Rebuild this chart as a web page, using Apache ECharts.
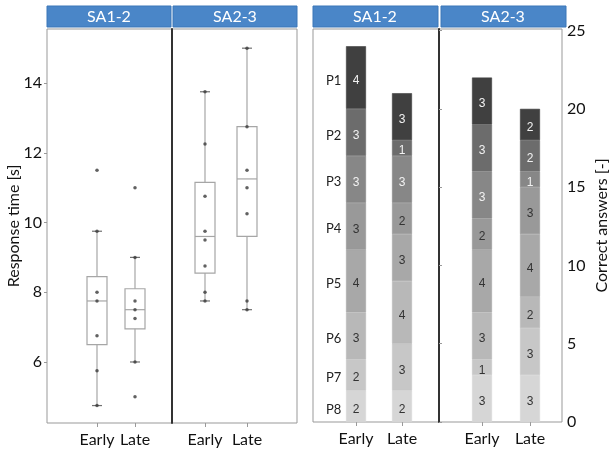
<!DOCTYPE html>
<html>
<head>
<meta charset="utf-8">
<script src="https://cdn.jsdelivr.net/npm/echarts@6/dist/echarts.min.js"></script>
<style>
  html, body { margin: 0; padding: 0; background: #fff; }
  #chart { width: 611px; height: 453px; }
</style>
</head>
<body>
<div id="chart"></div>
<script>
// panels and categories
var groups = ['SA1-2', 'SA2-3'];
var phases = ['Early', 'Late'];
var questions = ['P1', 'P2', 'P3', 'P4', 'P5', 'P6', 'P7', 'P8'];

// response time boxes: [min, Q1, median, Q3, max] for Early, Late
var sa12Box = [[4.75, 6.5, 7.75, 8.45, 9.75], [6.0, 6.95, 7.5, 8.1, 9.0]];
var sa23Box = [[7.75, 8.55, 9.6, 11.15, 13.75], [7.5, 9.6, 11.25, 12.75, 15.0]];

// single response times (dots)
var sa12Early = [11.5, 9.75, 8.0, 7.75, 6.75, 5.75, 4.75];
var sa12Late = [11.0, 9.0, 7.75, 7.5, 7.25, 6.0, 5.0];
var sa23Early = [13.75, 12.25, 10.75, 9.75, 9.5, 8.75, 8.0, 7.75];
var sa23Late = [15.0, 12.75, 11.5, 11.0, 10.25, 7.75, 7.5];

// correct answers per question P1..P8
var sa12EarlyAns = [4, 3, 3, 3, 4, 3, 2, 2];
var sa12LateAns = [3, 1, 3, 2, 3, 4, 3, 2];
var sa23EarlyAns = [3, 3, 3, 2, 4, 3, 1, 3];
var sa23LateAns = [2, 2, 1, 3, 4, 2, 3, 3];

// tick labels
var timeTicks = [6, 8, 10, 12, 14];
var answerTicks = [0, 5, 10, 15, 20, 25];

var shades = ['#404040', '#6c6c6c', '#878787', '#999999', '#a8a8a8', '#b8b8b8', '#c7c7c7', '#d6d6d6'];
var labelColors = ['#f2f2f2', '#f2f2f2', '#f2f2f2', '#333', '#333', '#333', '#333', '#333'];

var FONT = 'Lato';
var header = '#4a86c8';

function boxData(stats) {
    return stats.map(function (s, i) { return [i].concat(s); });
}

function dotData(lists) {
    var out = [];
    lists.forEach(function (vals, i) {
        vals.forEach(function (v) { out.push([i, v]); });
    });
    return out;
}

function renderBox(params, api) {
    var x = api.value(0);
    var lo = api.coord([x, api.value(1)]);
    var q1 = api.coord([x, api.value(2)]);
    var med = api.coord([x, api.value(3)]);
    var q3 = api.coord([x, api.value(4)]);
    var hi = api.coord([x, api.value(5)]);
    var c = lo[0], hw = 10, cw = 5;
    var line = { stroke: '#a6a6a6', lineWidth: 1.2 };
    var cap = { stroke: '#707070', lineWidth: 1.2 };
    return {
        type: 'group',
        children: [
            { type: 'line', shape: { x1: c, y1: hi[1], x2: c, y2: q3[1] }, style: line },
            { type: 'line', shape: { x1: c, y1: q1[1], x2: c, y2: lo[1] }, style: line },
            { type: 'line', shape: { x1: c - cw, y1: hi[1], x2: c + cw, y2: hi[1] }, style: cap },
            { type: 'line', shape: { x1: c - cw, y1: lo[1], x2: c + cw, y2: lo[1] }, style: cap },
            { type: 'rect', shape: { x: c - hw, y: q3[1], width: 2 * hw, height: q1[1] - q3[1] },
              style: { fill: 'rgba(255,255,255,0)', stroke: '#a6a6a6', lineWidth: 1.2 } },
            { type: 'line', shape: { x1: c - hw, y1: med[1], x2: c + hw, y2: med[1] }, style: line }
        ]
    };
}

function barSeries(axisIdx, early, late, withNames) {
    var list = [];
    for (var k = questions.length - 1; k >= 0; k--) {
        var first = { value: early[k] };
        if (withNames) {
            first.label = {
                position: [-20, '50%'],
                align: 'left',
                verticalAlign: 'middle',
                offset: [0, 3],
                formatter: '{p|' + questions[k] + '}{v|' + early[k] + '}',
                rich: {
                    p: { width: 20, align: 'left', color: '#222', fontFamily: FONT, fontSize: 13 },
                    v: { width: 20, align: 'center', color: labelColors[k], fontFamily: 'Liberation Sans', fontSize: 12 }
                }
            };
        }
        list.push({
            name: questions[k],
            type: 'bar',
            xAxisIndex: axisIdx,
            yAxisIndex: axisIdx === 6 ? 7 : 8,
            stack: 'ans' + axisIdx,
            barWidth: 20,
            itemStyle: { color: shades[k], borderColor: shades[k], borderWidth: 0.6 },
            label: {
                show: true,
                position: 'inside',
                offset: [0, 3],
                color: labelColors[k],
                fontFamily: 'Liberation Sans',
                fontSize: 12
            },
            data: [first, late[k]]
        });
    }
    return list;
}

var hidden = { show: false };
var catAxis = function (grid) {
    return {
        type: 'category', gridIndex: grid, data: phases,
        axisLine: { show: false },
        axisTick: { show: true, alignWithLabel: true, length: 4, lineStyle: { color: '#999' } },
        axisLabel: { interval: 0, fontFamily: FONT, fontSize: 16, color: '#111', margin: 9 }
    };
};

var chart = echarts.init(document.getElementById('chart'));

var option = {
    backgroundColor: '#fff',
    animation: false,
    grid: [
        { left: 47, top: 29, width: 125, height: 394, show: true, borderColor: '#999', borderWidth: 1 },
        { left: 172, top: 29, width: 125, height: 394, show: true, borderColor: '#999', borderWidth: 1 },
        { left: 78, top: 29, width: 76, height: 394 },
        { left: 184, top: 29, width: 84, height: 394 },
        { left: 313, top: 29, width: 126, height: 393, show: true, borderColor: '#999', borderWidth: 1 },
        { left: 439, top: 29, width: 127, height: 393, show: true, borderColor: '#999', borderWidth: 1 },
        { left: 333, top: 29, width: 92, height: 393 },
        { left: 458, top: 29, width: 96, height: 393 }
    ],
    xAxis: [
        { type: 'value', gridIndex: 0, min: 0, max: 1, show: false },
        { type: 'value', gridIndex: 1, min: 0, max: 1, show: false },
        catAxis(2),
        catAxis(3),
        { type: 'value', gridIndex: 4, min: 0, max: 1, show: false },
        { type: 'value', gridIndex: 5, min: 0, max: 1, show: false },
        catAxis(6),
        catAxis(7)
    ],
    yAxis: [
        {
            type: 'value', gridIndex: 0, min: 4.25, max: 15.55,
            name: 'Response time [s]', nameLocation: 'middle', nameGap: 25, nameMoveOverlap: false,
            nameTextStyle: { fontFamily: FONT, fontSize: 16, color: '#111' },
            axisLine: { show: false },
            splitLine: hidden,
            axisTick: { show: true, customValues: timeTicks, length: 3, lineStyle: { color: '#999' } },
            axisLabel: { customValues: timeTicks, fontFamily: FONT, fontSize: 16, color: '#111', margin: 5 }
        },
        {
            type: 'value', gridIndex: 1, min: 0, max: 1,
            axisLine: { show: true, lineStyle: { color: '#333', width: 2 } },
            axisTick: hidden, axisLabel: hidden, splitLine: hidden
        },
        { type: 'value', gridIndex: 2, min: 4.25, max: 15.55, show: false },
        { type: 'value', gridIndex: 3, min: 4.25, max: 15.55, show: false },
        { type: 'value', gridIndex: 4, min: 0, max: 1, show: false },
        {
            type: 'value', gridIndex: 5, position: 'right', min: 0, max: 25.1,
            name: 'Correct answers [-]', nameLocation: 'middle', nameGap: 32, nameRotate: 90,
            nameTextStyle: { fontFamily: FONT, fontSize: 16, color: '#111' },
            axisLine: { show: false },
            splitLine: hidden,
            axisTick: { show: true, customValues: answerTicks, length: 3, lineStyle: { color: '#999' } },
            axisLabel: { customValues: answerTicks, fontFamily: FONT, fontSize: 16, color: '#111', margin: 5 }
        },
        {
            type: 'value', gridIndex: 5, position: 'left', min: 0, max: 1,
            axisLine: { show: true, lineStyle: { color: '#333', width: 2 } },
            axisTick: hidden, axisLabel: hidden, splitLine: hidden
        },
        { type: 'value', gridIndex: 6, min: 0, max: 25.1, show: false },
        { type: 'value', gridIndex: 7, min: 0, max: 25.1, show: false }
    ],
    graphic: [
        { type: 'rect', shape: { x: 47, y: 6, width: 124, height: 21 }, style: { fill: header, stroke: '#3b76b8', lineWidth: 1 } },
        { type: 'rect', shape: { x: 173, y: 6, width: 124, height: 21 }, style: { fill: header, stroke: '#3b76b8', lineWidth: 1 } },
        { type: 'rect', shape: { x: 313, y: 6, width: 125, height: 21 }, style: { fill: header, stroke: '#3b76b8', lineWidth: 1 } },
        { type: 'rect', shape: { x: 441, y: 6, width: 125, height: 21 }, style: { fill: header, stroke: '#3b76b8', lineWidth: 1 } },
        { type: 'text', x: 109, y: 17, style: { text: groups[0], fill: '#fff', font: '16px ' + FONT, align: 'center', verticalAlign: 'middle' } },
        { type: 'text', x: 235, y: 17, style: { text: groups[1], fill: '#fff', font: '16px ' + FONT, align: 'center', verticalAlign: 'middle' } },
        { type: 'text', x: 375, y: 17, style: { text: groups[0], fill: '#fff', font: '16px ' + FONT, align: 'center', verticalAlign: 'middle' } },
        { type: 'text', x: 503, y: 17, style: { text: groups[1], fill: '#fff', font: '16px ' + FONT, align: 'center', verticalAlign: 'middle' } }
    ],
    series: [
        { type: 'custom', xAxisIndex: 2, yAxisIndex: 2, renderItem: renderBox, encode: { x: 0, y: [1, 2, 3, 4, 5] }, data: boxData(sa12Box) },
        { type: 'custom', xAxisIndex: 3, yAxisIndex: 3, renderItem: renderBox, encode: { x: 0, y: [1, 2, 3, 4, 5] }, data: boxData(sa23Box) },
        { type: 'scatter', xAxisIndex: 2, yAxisIndex: 2, symbolSize: 3.5, itemStyle: { color: '#3a3a3a' }, data: dotData([sa12Early, sa12Late]) },
        { type: 'scatter', xAxisIndex: 3, yAxisIndex: 3, symbolSize: 3.5, itemStyle: { color: '#3a3a3a' }, data: dotData([sa23Early, sa23Late]) }
    ]
        .concat(barSeries(6, sa12EarlyAns, sa12LateAns, true))
        .concat(barSeries(7, sa23EarlyAns, sa23LateAns, false))
};

chart.setOption(option);
</script>
</body>
</html>
